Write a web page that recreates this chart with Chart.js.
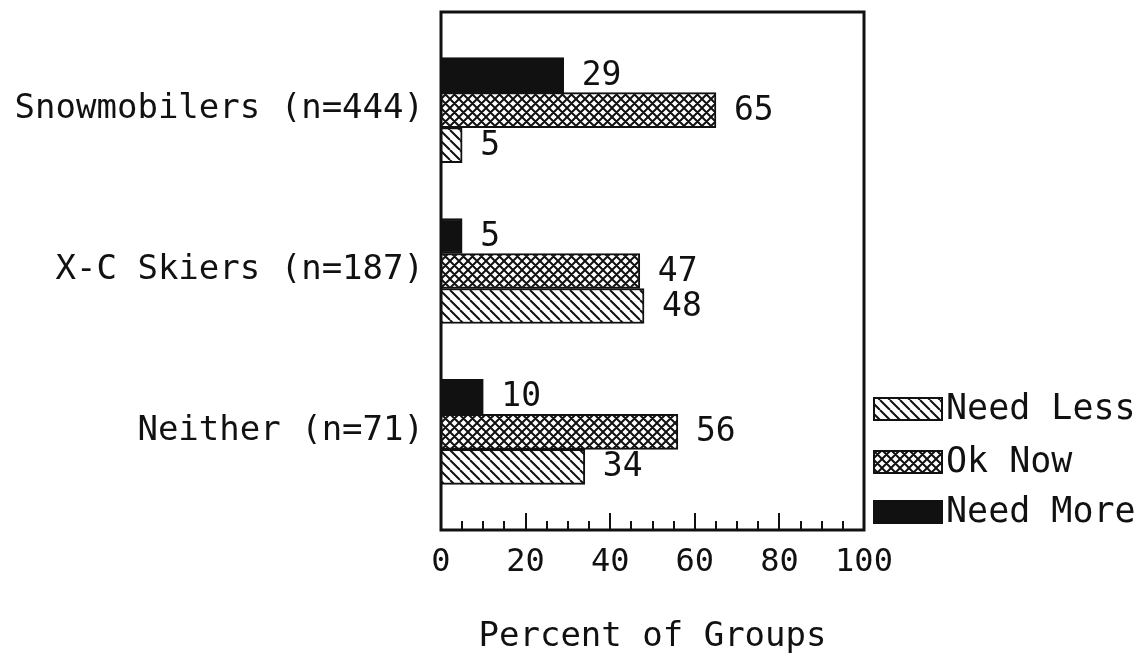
<!DOCTYPE html>
<html>
<head>
<meta charset="utf-8">
<script src="https://cdn.jsdelivr.net/npm/chart.js@4.4.1/dist/chart.umd.min.js"></script>
<style>
  body { margin: 0; background: #fff; }
  canvas { display: block; }
</style>
</head>
<body>
<canvas id="chart" width="1145" height="663"></canvas>
<script>
// data
const groups = ['Snowmobilers (n=444)', 'X-C Skiers (n=187)', 'Neither (n=71)'];
const needMore = [29, 5, 10];
const okNow = [65, 47, 56];
const needLess = [5, 48, 34];
const xTicks = [0, 20, 40, 60, 80, 100];

const FONT = "'DejaVu Sans Mono', 'Liberation Mono', monospace";
const INK = '#111';

// hatch fills
function hatch(size, both) {
  const c = document.createElement('canvas');
  c.width = size; c.height = size;
  const g = c.getContext('2d');
  g.fillStyle = '#fff';
  g.fillRect(0, 0, size, size);
  g.strokeStyle = INK;
  g.lineWidth = 2;
  g.beginPath();
  for (let k = -1; k <= 1; k++) {
    g.moveTo(k * size, 0); g.lineTo(k * size + size, size);
    if (both) { g.moveTo(k * size + size, 0); g.lineTo(k * size, size); }
  }
  g.stroke();
  return g.createPattern(c, 'repeat');
}
const lessFill = hatch(10, false);
const okFill = hatch(9, true);

const toPoints = arr => arr.map((v, i) => ({ x: v, y: i }));

// box, inward ticks, category names, value labels, legend
const extras = {
  id: 'extras',
  afterDatasetsDraw(chart) {
    const { ctx, chartArea: a, scales: { x, y } } = chart;
    ctx.save();
    ctx.strokeStyle = INK;
    ctx.lineWidth = 3;
    ctx.strokeRect(a.left, a.top, a.right - a.left, a.bottom - a.top);

    ctx.lineWidth = 2;
    ctx.beginPath();
    for (let v = 5; v < 100; v += 5) {
      const px = Math.round(x.getPixelForValue(v));
      const len = v % 20 === 0 ? 17 : 9;
      ctx.moveTo(px, a.bottom);
      ctx.lineTo(px, a.bottom - len);
    }
    ctx.stroke();

    ctx.fillStyle = INK;
    ctx.textBaseline = 'middle';

    // category names left of the box
    ctx.font = '34px ' + FONT;
    ctx.textAlign = 'right';
    groups.forEach((g, i) => ctx.fillText(g, a.left - 17, y.getPixelForValue(i) - 1));

    // value labels
    ctx.font = '33px ' + FONT;
    ctx.textAlign = 'left';
    chart.data.datasets.forEach((ds, d) => {
      chart.getDatasetMeta(d).data.forEach((bar, i) => {
        ctx.fillText(String(ds.data[i].x), bar.x + 18, bar.y + 1);
      });
    });

    // legend (reverse order, as in the original)
    const items = chart.data.datasets.slice().reverse();
    const rows = [409, 462, 512];
    ctx.font = '35px ' + FONT;
    items.forEach((ds, k) => {
      const cy = rows[k];
      ctx.fillStyle = ds.backgroundColor;
      ctx.fillRect(874, cy - 11, 68, 22);
      ctx.strokeStyle = INK;
      ctx.lineWidth = 2;
      ctx.strokeRect(874, cy - 11, 68, 22);
      ctx.fillStyle = INK;
      ctx.fillText(ds.label, 946, cy + 1);
    });
    ctx.restore();
  }
};

new Chart(document.getElementById('chart'), {
  type: 'bar',
  data: {
    datasets: [
      { label: 'Need More', data: toPoints(needMore), backgroundColor: INK, borderColor: INK, borderWidth: 2 },
      { label: 'Ok Now', data: toPoints(okNow), backgroundColor: okFill, borderColor: INK, borderWidth: 2 },
      { label: 'Need Less', data: toPoints(needLess), backgroundColor: lessFill, borderColor: INK, borderWidth: 2 }
    ]
  },
  options: {
    indexAxis: 'y',
    responsive: false,
    animation: false,
    devicePixelRatio: 1,
    barThickness: 35,
    layout: { padding: { top: 12, right: 281, left: 0, bottom: 0 } },
    plugins: { legend: { display: false }, tooltip: { enabled: false } },
    scales: {
      x: {
        type: 'linear',
        min: 0, max: 100,
        grid: { display: false, drawTicks: false },
        border: { display: false },
        afterBuildTicks: s => { s.ticks = xTicks.map(v => ({ value: v })); },
        ticks: { color: INK, font: { family: FONT, size: 32 }, padding: 13, maxRotation: 0 },
        title: {
          display: true, text: 'Percent of Groups', color: INK,
          font: { family: FONT, size: 34 }, padding: { top: 0, bottom: 5 }
        },
        afterFit: s => { s.height = 133; }
      },
      y: {
        type: 'linear',
        reverse: true,
        offset: false,
        min: -0.61, max: 2.61,
        grid: { display: false, drawTicks: false },
        border: { display: false },
        ticks: { display: false },
        afterFit: s => { s.width = 441; }
      }
    }
  },
  plugins: [extras]
});
</script>
</body>
</html>
